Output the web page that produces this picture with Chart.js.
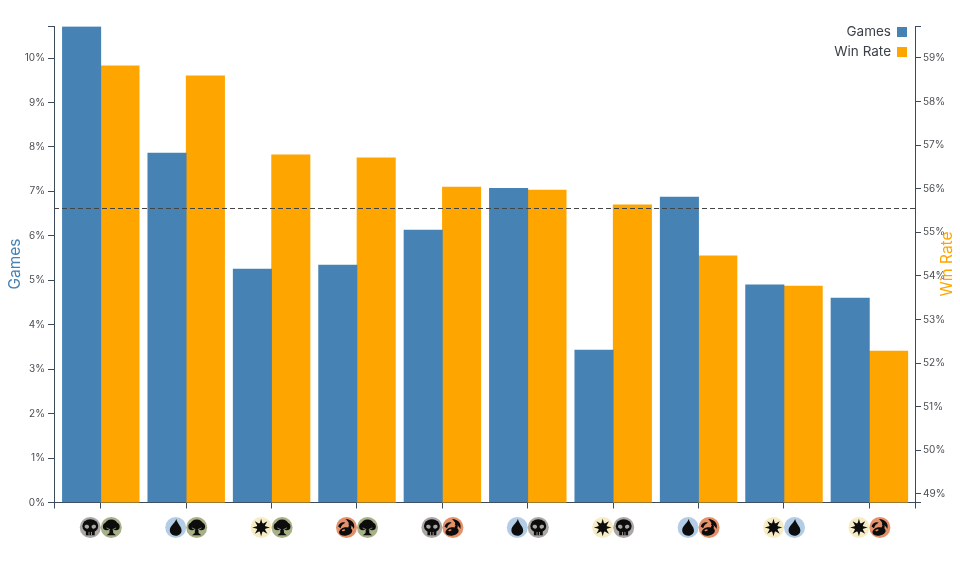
<!DOCTYPE html>
<html>
<head>
<meta charset="utf-8">
<style>
  html, body { margin: 0; padding: 0; background: #fff; }
  #wrap { position: relative; width: 960px; height: 562px; }
</style>
<script src="https://cdn.jsdelivr.net/npm/chart.js@4/dist/chart.umd.min.js"></script>
</head>
<body>
<div id="wrap"><canvas id="pairChart" width="960" height="562"></canvas></div>
<script>
const colorPairs = [["B","G"],["U","G"],["W","G"],["R","G"],["B","R"],["U","B"],["W","B"],["U","R"],["W","U"],["W","R"]];
const positions = [0,1,2,3,4,5,6,7,8,9];
const gamesPct = [10.71,7.86,5.25,5.34,6.13,7.07,3.43,6.87,4.90,4.60];
const winRatePct = [58.82,58.59,56.78,56.71,56.04,55.97,55.63,54.46,53.77,52.28];
const averageWinRate = 55.56;
const gamesTicks = [0,1,2,3,4,5,6,7,8,9,10];
const winRateTicks = [49,50,51,52,53,54,55,56,57,58,59];
const seriesNames = ["Games","Win Rate"];

const FONT = "Inter, 'Liberation Sans', sans-serif";
const BLUE = "#4682b4";
const ORANGE = "#ffa500";
const AXIS = "#3c4a5c";
const manaBg = { W: "#f6edc6", U: "#b4cde6", B: "#aaa7a4", R: "#e2916a", G: "#a6b187" };

// mana glyphs, unit = icon radius
const glyphs = {
  B(c, bg) {
    c.beginPath();
    c.ellipse(0, -0.14, 0.76, 0.64, 0, 0, Math.PI * 2);
    c.fill();
    c.fillRect(-0.42, 0.3, 0.84, 0.44);
    c.fillStyle = bg;
    c.beginPath();
    c.ellipse(-0.33, -0.08, 0.22, 0.18, 0.3, 0, Math.PI * 2);
    c.ellipse(0.33, -0.08, 0.22, 0.18, -0.3, 0, Math.PI * 2);
    c.fill();
    c.fillRect(-0.16, 0.42, 0.08, 0.34);
    c.fillRect(0.08, 0.42, 0.08, 0.34);
  },
  G(c, bg) {
    c.beginPath();
    c.arc(-0.44, -0.1, 0.36, 0, Math.PI * 2);
    c.arc(0.44, -0.1, 0.36, 0, Math.PI * 2);
    c.fill();
    c.beginPath();
    c.ellipse(0, -0.3, 0.6, 0.46, 0, 0, Math.PI * 2);
    c.fill();
    c.beginPath();
    c.moveTo(-0.16, 0);
    c.lineTo(0.16, 0);
    c.lineTo(0.18, 0.52);
    c.lineTo(0.44, 0.74);
    c.lineTo(-0.44, 0.74);
    c.lineTo(-0.18, 0.52);
    c.closePath();
    c.fill();
    c.strokeStyle = bg;
    c.lineWidth = 0.07;
    c.beginPath();
    c.moveTo(-0.46, 0.04);
    c.lineTo(-0.12, 0.2);
    c.moveTo(0.46, 0.04);
    c.lineTo(0.12, 0.2);
    c.stroke();
  },
  U(c) {
    c.beginPath();
    c.moveTo(0.06, -0.8);
    c.bezierCurveTo(0.16, -0.34, 0.58, -0.06, 0.56, 0.3);
    c.bezierCurveTo(0.54, 0.62, 0.26, 0.78, 0, 0.78);
    c.bezierCurveTo(-0.32, 0.78, -0.58, 0.54, -0.56, 0.24);
    c.bezierCurveTo(-0.54, -0.1, -0.12, -0.36, 0.06, -0.8);
    c.fill();
  },
  W(c) {
    for (let i = 0; i < 8; i++) {
      c.save();
      c.rotate(i * Math.PI / 4);
      c.beginPath();
      c.moveTo(-0.15, -0.32);
      c.lineTo(0, -0.84);
      c.lineTo(0.15, -0.32);
      c.closePath();
      c.fill();
      c.restore();
    }
    c.beginPath();
    c.arc(0, 0, 0.42, 0, Math.PI * 2);
    c.fill();
  },
  R(c, bg) {
    c.beginPath();
    c.ellipse(-0.08, 0.38, 0.64, 0.4, -0.2, 0, Math.PI * 2);
    c.fill();
    c.beginPath();
    c.moveTo(-0.1, -0.82);
    c.bezierCurveTo(0.56, -0.82, 0.86, -0.32, 0.7, 0.14);
    c.bezierCurveTo(0.58, -0.14, 0.38, -0.26, 0.16, -0.22);
    c.bezierCurveTo(0.32, -0.44, 0.14, -0.6, -0.1, -0.82);
    c.fill();
    c.beginPath();
    c.moveTo(-0.8, -0.1);
    c.bezierCurveTo(-0.66, -0.44, -0.38, -0.56, -0.12, -0.46);
    c.bezierCurveTo(-0.32, -0.36, -0.5, -0.2, -0.56, 0.06);
    c.closePath();
    c.fill();
    c.beginPath();
    c.ellipse(0.3, 0.02, 0.14, 0.28, 0.3, 0, Math.PI * 2);
    c.fill();
    c.fillStyle = bg;
    c.beginPath();
    c.ellipse(-0.28, 0.26, 0.16, 0.08, -0.3, 0, Math.PI * 2);
    c.fill();
  }
};

function drawMana(c, code, x, y, r) {
  c.save();
  c.translate(x, y);
  c.fillStyle = manaBg[code];
  c.beginPath();
  c.arc(0, 0, r, 0, Math.PI * 2);
  c.fill();
  c.scale(r, r);
  c.fillStyle = "#0d0d0d";
  glyphs[code](c, manaBg[code]);
  c.restore();
}

const extras = {
  id: "extras",
  afterDatasetsDraw(chart) {
    const c = chart.ctx;
    const { left, right } = chart.chartArea;
    const y2 = chart.scales.y2;
    const x = chart.scales.x;

    // average win rate
    const avgY = Math.round(y2.getPixelForValue(averageWinRate)) + 0.5;
    c.save();
    c.strokeStyle = "#444";
    c.lineWidth = 1;
    c.setLineDash([5, 3]);
    c.beginPath();
    c.moveTo(left, avgY);
    c.lineTo(right, avgY);
    c.stroke();
    c.restore();

    // colour pair icons under the ticks
    colorPairs.forEach((pair, i) => {
      const px = x.getPixelForValue(positions[i]);
      drawMana(c, pair[0], px - 10.5, 527.5, 10.5);
      drawMana(c, pair[1], px + 10.5, 527.5, 10.5);
    });

    // axis titles
    c.save();
    c.font = "15.5px " + FONT;
    c.textAlign = "center";
    c.textBaseline = "middle";
    c.fillStyle = BLUE;
    c.translate(15, 264);
    c.rotate(-Math.PI / 2);
    c.fillText(seriesNames[0], 0, 0);
    c.restore();
    c.save();
    c.font = "15.5px " + FONT;
    c.textAlign = "center";
    c.textBaseline = "middle";
    c.fillStyle = ORANGE;
    c.translate(947, 264);
    c.rotate(-Math.PI / 2);
    c.fillText(seriesNames[1], 0, 0);
    c.restore();

    // legend
    c.save();
    c.font = "13.5px " + FONT;
    c.textAlign = "right";
    c.textBaseline = "middle";
    seriesNames.forEach((name, i) => {
      const ly = 32 + i * 19.5;
      c.fillStyle = "#3c4048";
      c.fillText(name, 891, ly);
      c.fillStyle = i === 0 ? BLUE : ORANGE;
      c.fillRect(897, Math.round(ly - 5), 10, 10);
    });
    c.restore();
  }
};

new Chart(document.getElementById("pairChart"), {
  type: "bar",
  data: {
    datasets: [
      {
        label: seriesNames[0],
        data: positions.map((p, i) => ({ x: p, y: gamesPct[i] })),
        backgroundColor: BLUE,
        yAxisID: "y",
        barThickness: 38.4
      },
      {
        label: seriesNames[1],
        data: positions.map((p, i) => ({ x: p, y: winRatePct[i] })),
        backgroundColor: ORANGE,
        yAxisID: "y2",
        barThickness: 38.4
      }
    ]
  },
  options: {
    responsive: false,
    animation: false,
    devicePixelRatio: 1,
    layout: { padding: { top: 26.5, left: 0, right: 0, bottom: 0 } },
    plugins: { legend: { display: false }, tooltip: { enabled: false } },
    scales: {
      x: {
        type: "linear",
        offset: false,
        min: -0.548,
        max: 9.534,
        afterBuildTicks(s) {
          s.ticks = [s.min].concat(positions, [s.max]).map(v => ({ value: v }));
        },
        afterFit(s) { s.height = 59.5; },
        ticks: { display: false, autoSkip: false },
        border: { color: AXIS },
        grid: { offset: false, drawOnChartArea: false, drawTicks: true, tickLength: 6, tickColor: AXIS }
      },
      y: {
        position: "left",
        min: 0,
        max: 10.71,
        afterBuildTicks(s) {
          s.ticks = gamesTicks.concat([s.max]).map(v => ({ value: v }));
        },
        afterFit(s) { s.width = 54; },
        ticks: {
          autoSkip: false,
          color: "#4a4d52",
          padding: 3,
          font: { family: FONT, size: 10 },
          callback: v => gamesTicks.includes(v) ? v + "%" : ""
        },
        border: { color: AXIS },
        grid: { drawOnChartArea: false, tickLength: 6, tickColor: AXIS }
      },
      y2: {
        position: "right",
        min: 48.805,
        max: 59.72,
        afterBuildTicks(s) {
          s.ticks = [s.min].concat(winRateTicks, [s.max]).map(v => ({ value: v }));
        },
        afterFit(s) { s.width = 45; },
        ticks: {
          autoSkip: false,
          color: "#4a4d52",
          padding: 2,
          font: { family: FONT, size: 10 },
          callback: v => winRateTicks.includes(v) ? v + "%" : ""
        },
        border: { color: AXIS },
        grid: { drawOnChartArea: false, tickLength: 6, tickColor: AXIS }
      }
    }
  },
  plugins: [extras]
});
</script>
</body>
</html>
